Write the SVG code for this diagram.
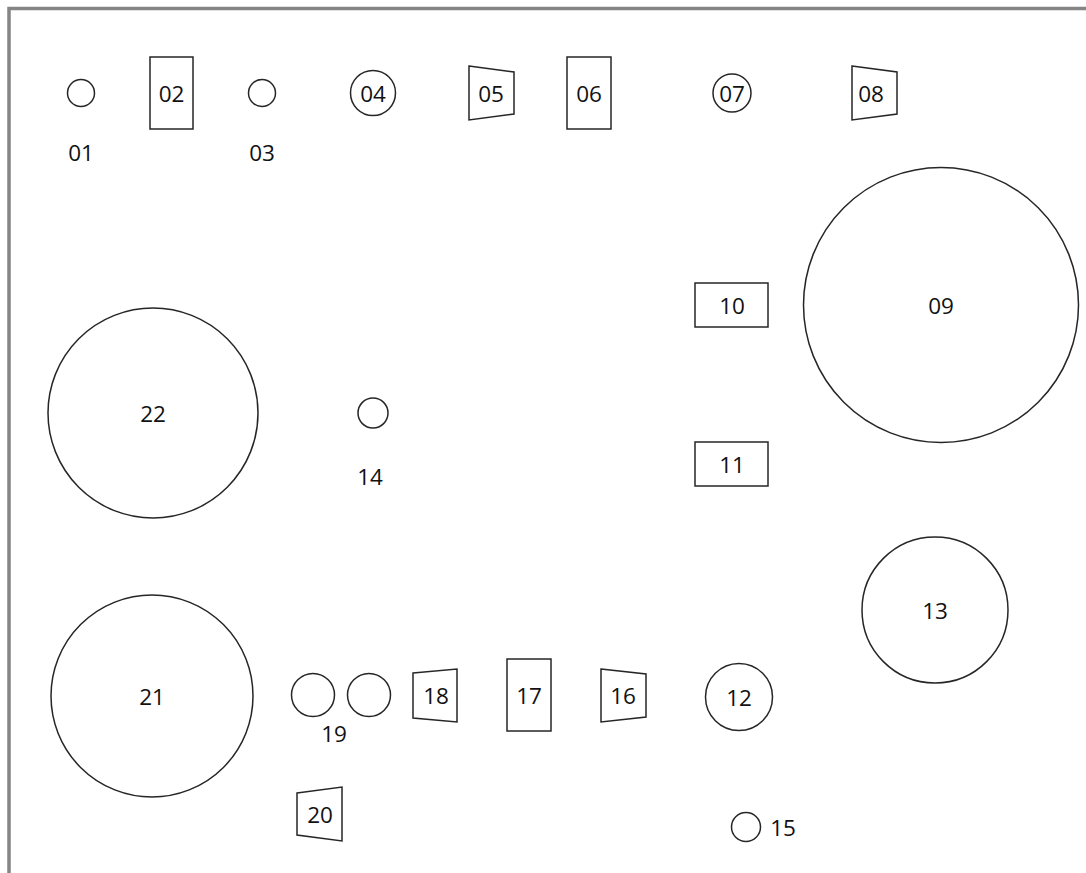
<svg xmlns="http://www.w3.org/2000/svg" width="1086" height="873" viewBox="0 0 1086 873">
  <style>
    .shape { fill: #ffffff; stroke: #262626; stroke-width: 1.5; }
    .lbl { font-family: "Open Sans", "Noto Sans", "Liberation Sans", sans-serif; font-size: 22.5px; fill: #111111; text-anchor: middle; dominant-baseline: central; }
    .frame { fill: none; stroke: #858585; stroke-width: 3.5; }
  </style>
  <rect width="1086" height="873" fill="#ffffff"/>
  <!-- outer frame: only the top and left edges fall inside the view -->
  <path class="frame" d="M9 880 V8.5 H1095"/>

  <g id="connectors"></g>

  <g id="n01"><circle class="shape" cx="81" cy="93" r="13.5"/><text class="lbl" x="81" y="152">01</text></g>
  <g id="n02"><rect class="shape" x="150" y="57" width="43" height="72"/><text class="lbl" x="171.5" y="93">02</text></g>
  <g id="n03"><circle class="shape" cx="262" cy="93" r="13.5"/><text class="lbl" x="262" y="152">03</text></g>
  <g id="n04"><circle class="shape" cx="373" cy="93" r="22.5"/><text class="lbl" x="373" y="93">04</text></g>
  <g id="n05"><polygon class="shape" points="469,66 514,72 514,114 469,120"/><text class="lbl" x="491" y="93">05</text></g>
  <g id="n06"><rect class="shape" x="567" y="57" width="44" height="72"/><text class="lbl" x="589" y="93">06</text></g>
  <g id="n07"><circle class="shape" cx="732" cy="93" r="19"/><text class="lbl" x="732" y="93">07</text></g>
  <g id="n08"><polygon class="shape" points="852,66 897,72 897,114 852,120"/><text class="lbl" x="871" y="93">08</text></g>
  <g id="n09"><circle class="shape" cx="941" cy="305" r="137.5"/><text class="lbl" x="941" y="305">09</text></g>
  <g id="n10"><rect class="shape" x="695" y="283" width="73" height="44"/><text class="lbl" x="732" y="305">10</text></g>
  <g id="n11"><rect class="shape" x="695" y="442" width="73" height="44"/><text class="lbl" x="732" y="464">11</text></g>
  <g id="n12"><circle class="shape" cx="739" cy="697" r="33.5"/><text class="lbl" x="739" y="697">12</text></g>
  <g id="n13"><circle class="shape" cx="935" cy="610" r="73"/><text class="lbl" x="935" y="610">13</text></g>
  <g id="n14"><circle class="shape" cx="373" cy="413" r="15"/><text class="lbl" x="370" y="476">14</text></g>
  <g id="n15"><circle class="shape" cx="746" cy="827" r="14.5"/><text class="lbl" x="783" y="827">15</text></g>
  <g id="n16"><polygon class="shape" points="601,669 646,674 646,717 601,722"/><text class="lbl" x="623" y="695">16</text></g>
  <g id="n17"><rect class="shape" x="507" y="659" width="44" height="72"/><text class="lbl" x="529" y="695">17</text></g>
  <g id="n18"><polygon class="shape" points="413,673 457,669 457,722 413,718"/><text class="lbl" x="436" y="695">18</text></g>
  <g id="n19"><circle class="shape" cx="313" cy="695" r="21.5"/><circle class="shape" cx="369" cy="695" r="21.5"/><text class="lbl" x="334" y="733">19</text></g>
  <g id="n20"><polygon class="shape" points="297,793 342,787 342,841 297,835"/><text class="lbl" x="320" y="814">20</text></g>
  <g id="n21"><circle class="shape" cx="152" cy="696" r="101"/><text class="lbl" x="152" y="696">21</text></g>
  <g id="n22"><circle class="shape" cx="153" cy="413" r="105"/><text class="lbl" x="153" y="413">22</text></g>
</svg>
